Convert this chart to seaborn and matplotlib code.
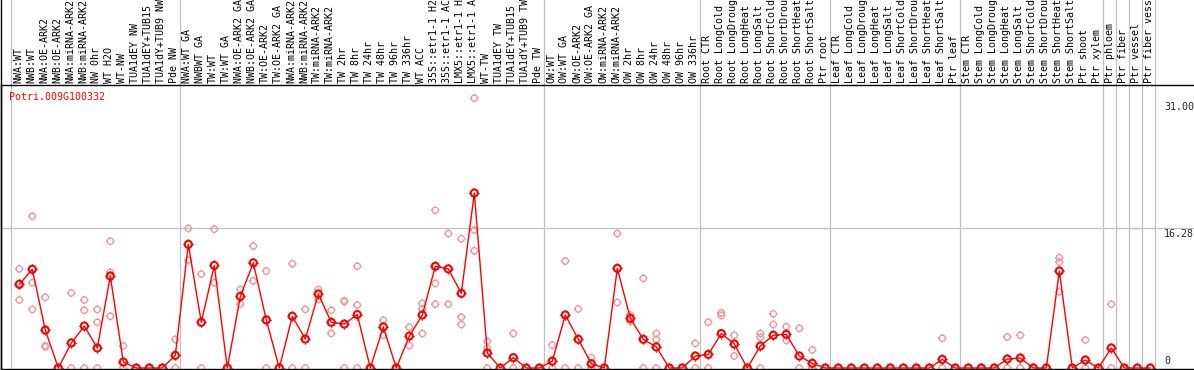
import numpy as np
import pandas as pd
import seaborn as sns
import matplotlib.pyplot as plt
from matplotlib.path import Path
from matplotlib.transforms import blended_transform_factory

nan = np.nan

# sample labels (truncated to 14 chars like the source)
labels = [
    "NWA:WT", "NWB:WT", "NWA:OE-ARK2", "NWB:OE-ARK2", "NWA:miRNA-ARK2", "NWB:miRNA-ARK2",
    "NW 0hr", "WT H2O", "WT-NW", "TUA1dEY NW", "TUA1dEY+TUB15 ", "TUA1dY+TUB9 NW", "Pde NW",
    "NWA:WT GA", "NWBWT GA", "TW:WT", "TW:WT GA", "NWA:OE-ARK2 GA", "NWB:OE-ARK2 GA",
    "TW:OE-ARK2", "TW:OE-ARK2 GA", "NWA:miRNA-ARK2", "NWB:miRNA-ARK2", "TW:miRNA-ARK2",
    "TW:miRNA-ARK2", "TW 2hr", "TW 8hr", "TW 24hr", "TW 48hr", "TW 96hr", "TW 336hr",
    "WT ACC", "35S::etr1-1 H2", "35S::etr1-1 AC", "LMX5::etr1-1 H", "LMX5::etr1-1 A",
    "WT-TW", "TUA1dEY TW", "TUA1dEY+TUB15 ", "TUA1dY+TUB9 TW", "Pde TW",
    "OW:WT", "OW:WT GA", "OW:OE-ARK2", "OW:OE-ARK2 GA", "OW:miRNA-ARK2", "OW:miRNA-ARK2",
    "OW 2hr", "OW 8hr", "OW 24hr", "OW 48hr", "OW 96hr", "OW 336hr",
    "Root CTR", "Root LongCold", "Root LongDroug", "Root LongHeat", "Root LongSalt",
    "Root ShortCold", "Root ShortDrou", "Root ShortHeat", "Root ShortSalt", "Ptr root",
    "Leaf CTR", "Leaf LongCold", "Leaf LongDroug", "Leaf LongHeat", "Leaf LongSalt",
    "Leaf ShortCold", "Leaf ShortDrou", "Leaf ShortHeat", "Leaf ShortSalt", "Ptr leaf",
    "Stem CTR", "Stem LongCold", "Stem LongDroug", "Stem LongHeat", "Stem LongSalt",
    "Stem ShortCold", "Stem ShortDrou", "Stem ShortHeat", "Stem ShortSalt", "Ptr shoot",
    "Ptr xylem", "Ptr phloem", "Ptr fiber", "Ptr vessel", "Ptr fiber vess",
]

# first index of each separated block
group_starts = [0, 13, 41, 53, 63, 73, 84, 85, 86, 87, 88]

means = [
    9.7, 11.45, 4.4, 0, 2.9, 4.87, 2.32, 10.67, 0.7, 0, 0, 0, 1.47,
    14.35, 5.3, 11.9, 0, 8.3, 12.2, 5.57, 0, 6.0, 3.36, 8.58, 5.3, 5.1, 6.2, 0, 4.76,
    0, 3.7, 6.15, 11.8, 11.5, 8.66, 20.3, 1.74, 0, 1.2, 0, 0,
    0.8, 6.15, 3.33, 0.5, 0, 11.56, 5.76, 3.33, 2.44, 0, 0, 1.39,
    1.58, 4.0, 2.78, 0, 2.55, 3.8, 3.9, 1.39, 0.54, 0,
    0, 0, 0, 0, 0, 0, 0, 0, 1.0, 0,
    0, 0, 0, 1.04, 1.16, 0, 0, 11.25, 0, 0.93,
    0, 2.32, 0, 0, 0,
]

rep_hi = [
    11.5, 17.6, 8.2, 0, 8.7, 7.9, 6.8, 14.7, 2.55, 0, 0, 0, 3.3,
    16.2, 10.9, 16.1, 0, 9.1, 14.15, 11.25, 0, 12.1, 6.8, 9.1, 6.7, 7.8, 11.8, 0, 5.55,
    0, 4.75, 7.5, 18.3, 15.6, 15.0, 31.3, 3.1, 0, 4.0, 0, 0,
    2.65, 12.4, 6.85, 1.2, 0, 15.6, 6.15, 10.4, 4.0, 0, 0, 2.85,
    5.3, 6.4, 3.8, 0, 4.0, 6.3, 4.8, 4.6, 2.1, 0,
    0, 0, 0, 0, 0, 0, 0, 0, 3.45, 0,
    0, 0, 0, 3.6, 3.8, 0, 0, 12.8, 0, 3.25,
    0, 7.4, 0, 0, 0,
]
rep_mid = [
    9.8, 9.9, 2.55, nan, 0, 6.7, 5.3, 11.1, 0, nan, nan, nan, 0,
    12.5, 0, 9.9, nan, 7.4, 10.1, 0, nan, 0, 0, 7.95, 4.0, 7.7, 7.3, nan, 3.8,
    nan, 2.6, 6.85, 9.8, 7.4, 5.9, 16.0, 2.3, nan, 0, nan, nan,
    0, 0, 0, 0, nan, 7.6, 5.4, 0, 3.3, nan, nan, 0,
    0, 6.1, 1.4, nan, 3.55, 5.05, 3.2, 0, 0, nan,
    nan, nan, nan, nan, nan, nan, nan, nan, 0, nan,
    nan, nan, nan, 0, 0, nan, nan, 12.3, nan, 0,
    nan, 0, nan, nan, nan,
]
rep_lo = [
    7.9, 6.8, 2.45, nan, nan, 0, 0, 6.0, nan, nan, nan, nan, nan,
    nan, nan, nan, nan, nan, nan, nan, nan, nan, nan, nan, nan, 0, 0, nan, nan,
    nan, nan, 4.0, 7.4, nan, 5.05, 13.6, 0, nan, nan, nan, nan,
    nan, nan, nan, nan, nan, nan, nan, nan, 0, nan, nan, nan,
    nan, nan, nan, nan, 0, nan, nan, nan, nan, nan,
    nan, nan, nan, nan, nan, nan, nan, nan, nan, nan,
    nan, nan, nan, nan, nan, nan, nan, 8.85, nan, nan,
    nan, nan, nan, nan, nan,
]

gene = "Potri.009G100332"
ytick_vals = [31.0, 16.28, 0]

sns.set_style("white")
mono = "DejaVu Sans Mono"
plt.rcParams["font.family"] = [mono]

idx = np.arange(len(labels))
mean_df = pd.DataFrame({"pos": idx, "value": means})
rep_df = pd.DataFrame({
    "pos": np.concatenate([idx, idx, idx]),
    "value": np.concatenate([rep_hi, rep_mid, rep_lo]),
}).dropna()

# markers: circle with four little ticks around it
ticks_only = Path(
    [(0, 1.0), (0, 1.45), (0, -1.0), (0, -1.45), (1.0, 0), (1.45, 0), (-1.0, 0), (-1.45, 0)],
    [Path.MOVETO, Path.LINETO] * 4,
)
circ = Path.unit_circle()
rep_marker = Path.make_compound_path(circ, Path(
    [(0, 1.0), (0, 1.35), (0, -1.0), (0, -1.35), (1.0, 0), (1.35, 0), (-1.0, 0), (-1.35, 0)],
    [Path.MOVETO, Path.LINETO] * 4))

W, H = 1194, 370
fig = plt.figure(figsize=(W / 100, H / 100), dpi=100)
ax = fig.add_axes([1.3 / W, 0.7 / H, (W - 1.3) / W, (369.3 - 85) / H])

# separators and grid
for s in group_starts:
    ax.axvline(s - 0.65, ymin=0, ymax=1.31, color="#c0c0c0", lw=0.9, clip_on=False, zorder=0)
ax.axhline(16.28, color="#c0c0c0", lw=0.9, zorder=0)

sns.scatterplot(data=rep_df, x="pos", y="value", marker=rep_marker, s=36,
                color="#ee9a9a", facecolor="none", edgecolor="#ee9a9a",
                linewidth=1.0, ax=ax, zorder=2)
sns.lineplot(data=mean_df, x="pos", y="value", color="red", lw=1.0, ax=ax, zorder=3)
sns.scatterplot(data=mean_df, x="pos", y="value", marker=ticks_only, s=56,
                color="black", edgecolor="black", linewidth=0.9, ax=ax, zorder=4)
sns.scatterplot(data=mean_df, x="pos", y="value", marker="o", s=26,
                color="red", facecolor="none", edgecolor="red",
                linewidth=1.5, ax=ax, zorder=5)

ax.set_xlim(-1.385, 90.36)
ax.set_ylim(-0.15, 32.83)
ax.set_xticks([])
ax.set_yticks([])
ax.set_xlabel("")
ax.set_ylabel("")
for side in ["top", "left", "bottom"]:
    ax.spines[side].set_color("black")
    ax.spines[side].set_linewidth(1.0)
ax.spines["right"].set_visible(False)

# rotated sample names above the plot
trans = blended_transform_factory(ax.transData, ax.transAxes)
for i, lab in enumerate(labels):
    ax.text(i - 0.1, 1.0 + 1.5 / 284, lab, transform=trans, rotation=90,
            ha="center", va="bottom", fontsize=7.2, family=mono, color="black")

# value labels on the right
for v in ytick_vals:
    if v == 0:
        ax.text(88.05, 0.25, "0", ha="left", va="bottom", fontsize=7.2, family=mono)
    else:
        ax.text(88.05, v - 0.1, f"{v:.2f}", ha="left", va="top", fontsize=7.2, family=mono)

fig.text(9 / W, 1 - 97 / H, gene, color="red", ha="left", va="center", fontsize=7.2, family=mono)
fig.add_artist(plt.Line2D([1.3 / W, 1.3 / W], [0, 1], color="black", lw=1.0))

fig.savefig("out.png", dpi=100)
